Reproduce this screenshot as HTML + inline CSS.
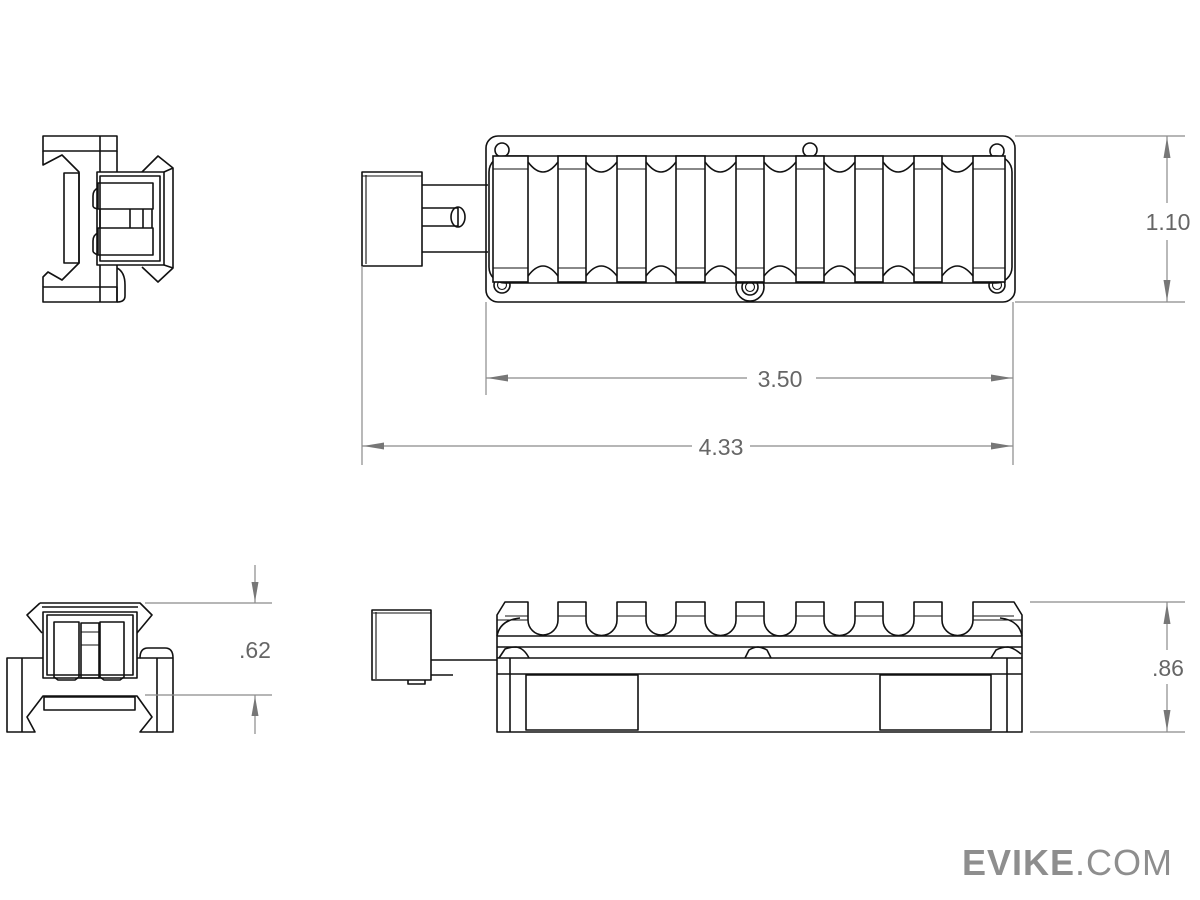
<!DOCTYPE html>
<html><head><meta charset="utf-8">
<style>
html,body{margin:0;padding:0;background:#fff;}
svg{display:block;}
.k{fill:none;stroke:#111;stroke-width:1.6;stroke-linejoin:round;}
.t{fill:none;stroke:#111;stroke-width:1.1;}
.d{fill:none;stroke:#8a8a8a;stroke-width:1.2;}
.a{fill:#777;stroke:none;}
.lbl{font-family:"Liberation Sans",sans-serif;font-size:23px;fill:#666;}
</style></head>
<body>
<svg width="1200" height="900" viewBox="0 0 1200 900" xmlns="http://www.w3.org/2000/svg">
<rect width="1200" height="900" fill="#fff"/>

<!-- ===== TOP-LEFT END VIEW ===== -->
<g>
  <rect class="k" x="43" y="136" width="74" height="15"/>
  <line class="k" x1="100" y1="136" x2="100" y2="172"/>
  <line class="k" x1="117" y1="151" x2="117" y2="172"/>
  <path class="k" d="M43,151 V165 L62,155 L79,172 V263 L62,280 L48,272 L43,277 V287"/>
  <rect class="k" x="64" y="173" width="15" height="90"/>
  <rect class="k" x="43" y="287" width="74" height="15"/>
  <line class="k" x1="100" y1="265" x2="100" y2="302"/>
  <path class="k" d="M117,268 Q125,272 125,285 V296 Q125,302 117,302"/>
  <line class="k" x1="117" y1="265" x2="117" y2="302"/>
  <rect class="k" x="97" y="172" width="67" height="93"/>
  <rect class="k" x="100" y="176" width="60" height="85"/>
  <path class="k" d="M142,172 L158,156 L173,168 V268 L158,282 L142,267"/>
  <line class="k" x1="164" y1="172" x2="173" y2="168"/>
  <line class="k" x1="164" y1="265" x2="173" y2="268"/>
  <rect class="k" x="98" y="183" width="55" height="26"/>
  <rect class="k" x="98" y="228" width="55" height="27"/>
  <path class="k" d="M98,188 Q93,190 93,196 V206 Q93,208 98,209"/>
  <path class="k" d="M98,233 Q93,235 93,241 V251 Q93,253 98,255"/>
  <line class="k" x1="100" y1="209" x2="100" y2="228"/>
  <line class="k" x1="130" y1="209" x2="130" y2="228"/>
  <line class="k" x1="143" y1="209" x2="143" y2="228"/>
  <line class="k" x1="152" y1="209" x2="152" y2="228"/>
</g>

<!-- ===== TOP VIEW ===== -->
<g>
  <rect class="k" x="362" y="172" width="60" height="94"/>
  <line class="t" x1="366" y1="175" x2="366" y2="264"/>
  <line class="t" x1="362" y1="176" x2="422" y2="176"/>
  <line class="k" x1="422" y1="185" x2="488" y2="185"/>
  <line class="k" x1="422" y1="252" x2="488" y2="252"/>
  <path class="k" d="M422,208 H458 V226 H422"/>
  <ellipse class="k" cx="458" cy="217" rx="7" ry="10"/>
  <rect class="k" x="486" y="136" width="529" height="166" rx="12"/>
  <rect class="k" x="489" y="156" width="523" height="127" rx="16"/>
  <circle class="k" cx="502" cy="150" r="7"/>
  <circle class="k" cx="810" cy="150" r="7"/>
  <circle class="k" cx="997" cy="151" r="7"/>
  <circle class="k" cx="502" cy="285" r="8"/><circle class="t" cx="502" cy="285" r="4.5"/>
  <circle class="k" cx="750" cy="287" r="14"/><circle class="k" cx="750" cy="287" r="8"/><circle class="t" cx="750" cy="287" r="4.5"/>
  <circle class="k" cx="997" cy="285" r="8"/><circle class="t" cx="997" cy="285" r="4.5"/>
  <g fill="#fff" stroke="#111" stroke-width="1.6">
    <rect x="493" y="156" width="35" height="126"/>
    <rect x="558" y="156" width="28" height="126"/>
    <rect x="617" y="156" width="29" height="126"/>
    <rect x="676" y="156" width="29" height="126"/>
    <rect x="736" y="156" width="28" height="126"/>
    <rect x="796" y="156" width="28" height="126"/>
    <rect x="855" y="156" width="28" height="126"/>
    <rect x="914" y="156" width="28" height="126"/>
    <rect x="973" y="156" width="32" height="126"/>
  </g>
  <path class="t" d="M493,169 H528 M558,169 H586 M617,169 H646 M676,169 H705 M736,169 H764 M796,169 H824 M855,169 H883 M914,169 H942 M973,169 H1005
                     M493,268 H528 M558,268 H586 M617,268 H646 M676,268 H705 M736,268 H764 M796,268 H824 M855,268 H883 M914,268 H942 M973,268 H1005"/>
  <path class="k" d="M528,162 Q543,182 558,162 M586,162 Q601,182 617,162 M646,162 Q661,182 676,162 M705,162 Q720,182 736,162 M764,162 Q780,182 796,162 M824,162 Q840,182 855,162 M883,162 Q898,182 914,162 M942,162 Q957,182 973,162
                     M528,276 Q543,256 558,276 M586,276 Q601,256 617,276 M646,276 Q661,256 676,276 M705,276 Q720,256 736,276 M764,276 Q780,256 796,276 M824,276 Q840,256 855,276 M883,276 Q898,256 914,276 M942,276 Q957,256 973,276"/>
</g>

<g>
  <line class="d" x1="1015" y1="136" x2="1185" y2="136"/>
  <line class="d" x1="1015" y1="302" x2="1185" y2="302"/>
  <line class="d" x1="1167" y1="136" x2="1167" y2="203"/>
  <line class="d" x1="1167" y1="240" x2="1167" y2="302"/>
  <polygon class="a" points="1167,137 1163.5,158 1170.5,158"/>
  <polygon class="a" points="1167,301 1163.5,280 1170.5,280"/>
  <text class="lbl" x="1168" y="230" text-anchor="middle">1.10</text>

  <line class="d" x1="486" y1="302" x2="486" y2="395"/>
  <line class="d" x1="1013" y1="302" x2="1013" y2="465"/>
  <line class="d" x1="486" y1="378" x2="747" y2="378"/>
  <line class="d" x1="816" y1="378" x2="1013" y2="378"/>
  <polygon class="a" points="487,378 508,374.5 508,381.5"/>
  <polygon class="a" points="1012,378 991,374.5 991,381.5"/>
  <text class="lbl" x="780" y="387" text-anchor="middle">3.50</text>

  <line class="d" x1="362" y1="266" x2="362" y2="465"/>
  <line class="d" x1="362" y1="446" x2="692" y2="446"/>
  <line class="d" x1="750" y1="446" x2="1013" y2="446"/>
  <polygon class="a" points="363,446 384,442.5 384,449.5"/>
  <polygon class="a" points="1012,446 991,442.5 991,449.5"/>
  <text class="lbl" x="721" y="455" text-anchor="middle">4.33</text>
</g>

<!-- ===== BOTTOM-LEFT END VIEW ===== -->
<g>
  <path class="k" d="M40,603 H140 L152,615 L137,633 M40,603 L27,615 L42,633"/>
  <line class="k" x1="42" y1="607" x2="138" y2="607"/>
  <rect class="k" x="43" y="612" width="94" height="66"/>
  <rect class="k" x="47" y="615" width="86" height="60"/>
  <path class="k" d="M54,622 H79 V677 L75,680 H58 L54,677 Z"/>
  <path class="k" d="M100,622 H124 V677 L120,680 H104 L100,677 Z"/>
  <rect class="k" x="81" y="623" width="18" height="55"/>
  <line class="t" x1="81" y1="632" x2="99" y2="632"/>
  <line class="t" x1="81" y1="645" x2="99" y2="645"/>
  <path class="k" d="M43,658 H7 V732 H35 L27,717 L43,696 H137 L152,717 L140,732 H173 V658 Q173,648 165,648 H148 Q140,648 140,658 H137"/>
  <line class="k" x1="22" y1="658" x2="22" y2="732"/>
  <line class="k" x1="157" y1="658" x2="157" y2="732"/>
  <line class="k" x1="140" y1="658" x2="173" y2="658"/>
  <rect class="k" x="44" y="697" width="91" height="13"/>
</g>
<g>
  <line class="d" x1="145" y1="603" x2="272" y2="603"/>
  <line class="d" x1="145" y1="695" x2="272" y2="695"/>
  <line class="d" x1="255" y1="565" x2="255" y2="603"/>
  <line class="d" x1="255" y1="695" x2="255" y2="734"/>
  <polygon class="a" points="255,602 251.5,582 258.5,582"/>
  <polygon class="a" points="255,696 251.5,716 258.5,716"/>
  <text class="lbl" x="255" y="658" text-anchor="middle">.62</text>
</g>

<!-- ===== SIDE VIEW ===== -->
<g>
  <rect class="k" x="372" y="610" width="59" height="70"/>
  <line class="t" x1="376" y1="612" x2="376" y2="679"/>
  <line class="t" x1="373" y1="613" x2="431" y2="613"/>
  <path class="k" d="M408,680 V684 H425 V680"/>
  <line class="k" x1="431" y1="660" x2="497" y2="660"/>
  <line class="k" x1="431" y1="675" x2="453" y2="675"/>
  <path class="k" d="M497,615 L505,602 H528 V620 A15,15 0 0 0 558,620 V602 H586 V620 A15.5,15.5 0 0 0 617,620 V602 H646 V620 A15,15 0 0 0 676,620 V602 H705 V620 A15.5,15.5 0 0 0 736,620 V602 H764 V620 A16,16 0 0 0 796,620 V602 H824 V620 A15.5,15.5 0 0 0 855,620 V602 H883 V620 A15.5,15.5 0 0 0 914,620 V602 H942 V620 A15.5,15.5 0 0 0 973,620 V602 H1014 L1022,615 V732 H497 Z"/>
  <path class="t" d="M505,616 H528 M558,616 H586 M617,616 H646 M676,616 H705 M736,616 H764 M796,616 H824 M855,616 H883 M914,616 H942 M973,616 H1014"/>
  <path class="t" d="M497,620 H528 M973,620 H1022"/>
  <path class="k" d="M497,636 Q500,620 520,618 M1022,636 Q1019,620 1000,618"/>
  <line class="k" x1="497" y1="636" x2="1022" y2="636"/>
  <line class="k" x1="497" y1="647" x2="1022" y2="647"/>
  <line class="k" x1="497" y1="658" x2="1022" y2="658"/>
  <path class="k" d="M499,658 L505,649 Q510,647 516,647 Q524,648 529,658" fill="#fff"/>
  <path class="k" d="M745,658 L749,650 Q754,647 758,647 Q764,648 767,650 L771,658"/>
  <path class="k" d="M991,658 L996,650 Q1002,647 1008,647 Q1014,648 1021,654"/>
  <line class="k" x1="497" y1="674" x2="1022" y2="674"/>
  <line class="k" x1="510" y1="658" x2="510" y2="732"/>
  <line class="k" x1="1007" y1="658" x2="1007" y2="732"/>
  <rect class="k" x="526" y="675" width="112" height="55"/>
  <rect class="k" x="880" y="675" width="111" height="55"/>
</g>
<g>
  <line class="d" x1="1030" y1="602" x2="1185" y2="602"/>
  <line class="d" x1="1030" y1="732" x2="1185" y2="732"/>
  <line class="d" x1="1167" y1="602" x2="1167" y2="650"/>
  <line class="d" x1="1167" y1="684" x2="1167" y2="732"/>
  <polygon class="a" points="1167,603 1163.5,624 1170.5,624"/>
  <polygon class="a" points="1167,731 1163.5,710 1170.5,710"/>
  <text class="lbl" x="1168" y="676" text-anchor="middle">.86</text>
</g>

<text x="962" y="875" font-family="Liberation Sans, sans-serif" font-size="36" letter-spacing="1" fill="#8e8e8e"><tspan font-weight="bold">EVIKE</tspan><tspan>.COM</tspan></text>
</svg>
</body></html>
